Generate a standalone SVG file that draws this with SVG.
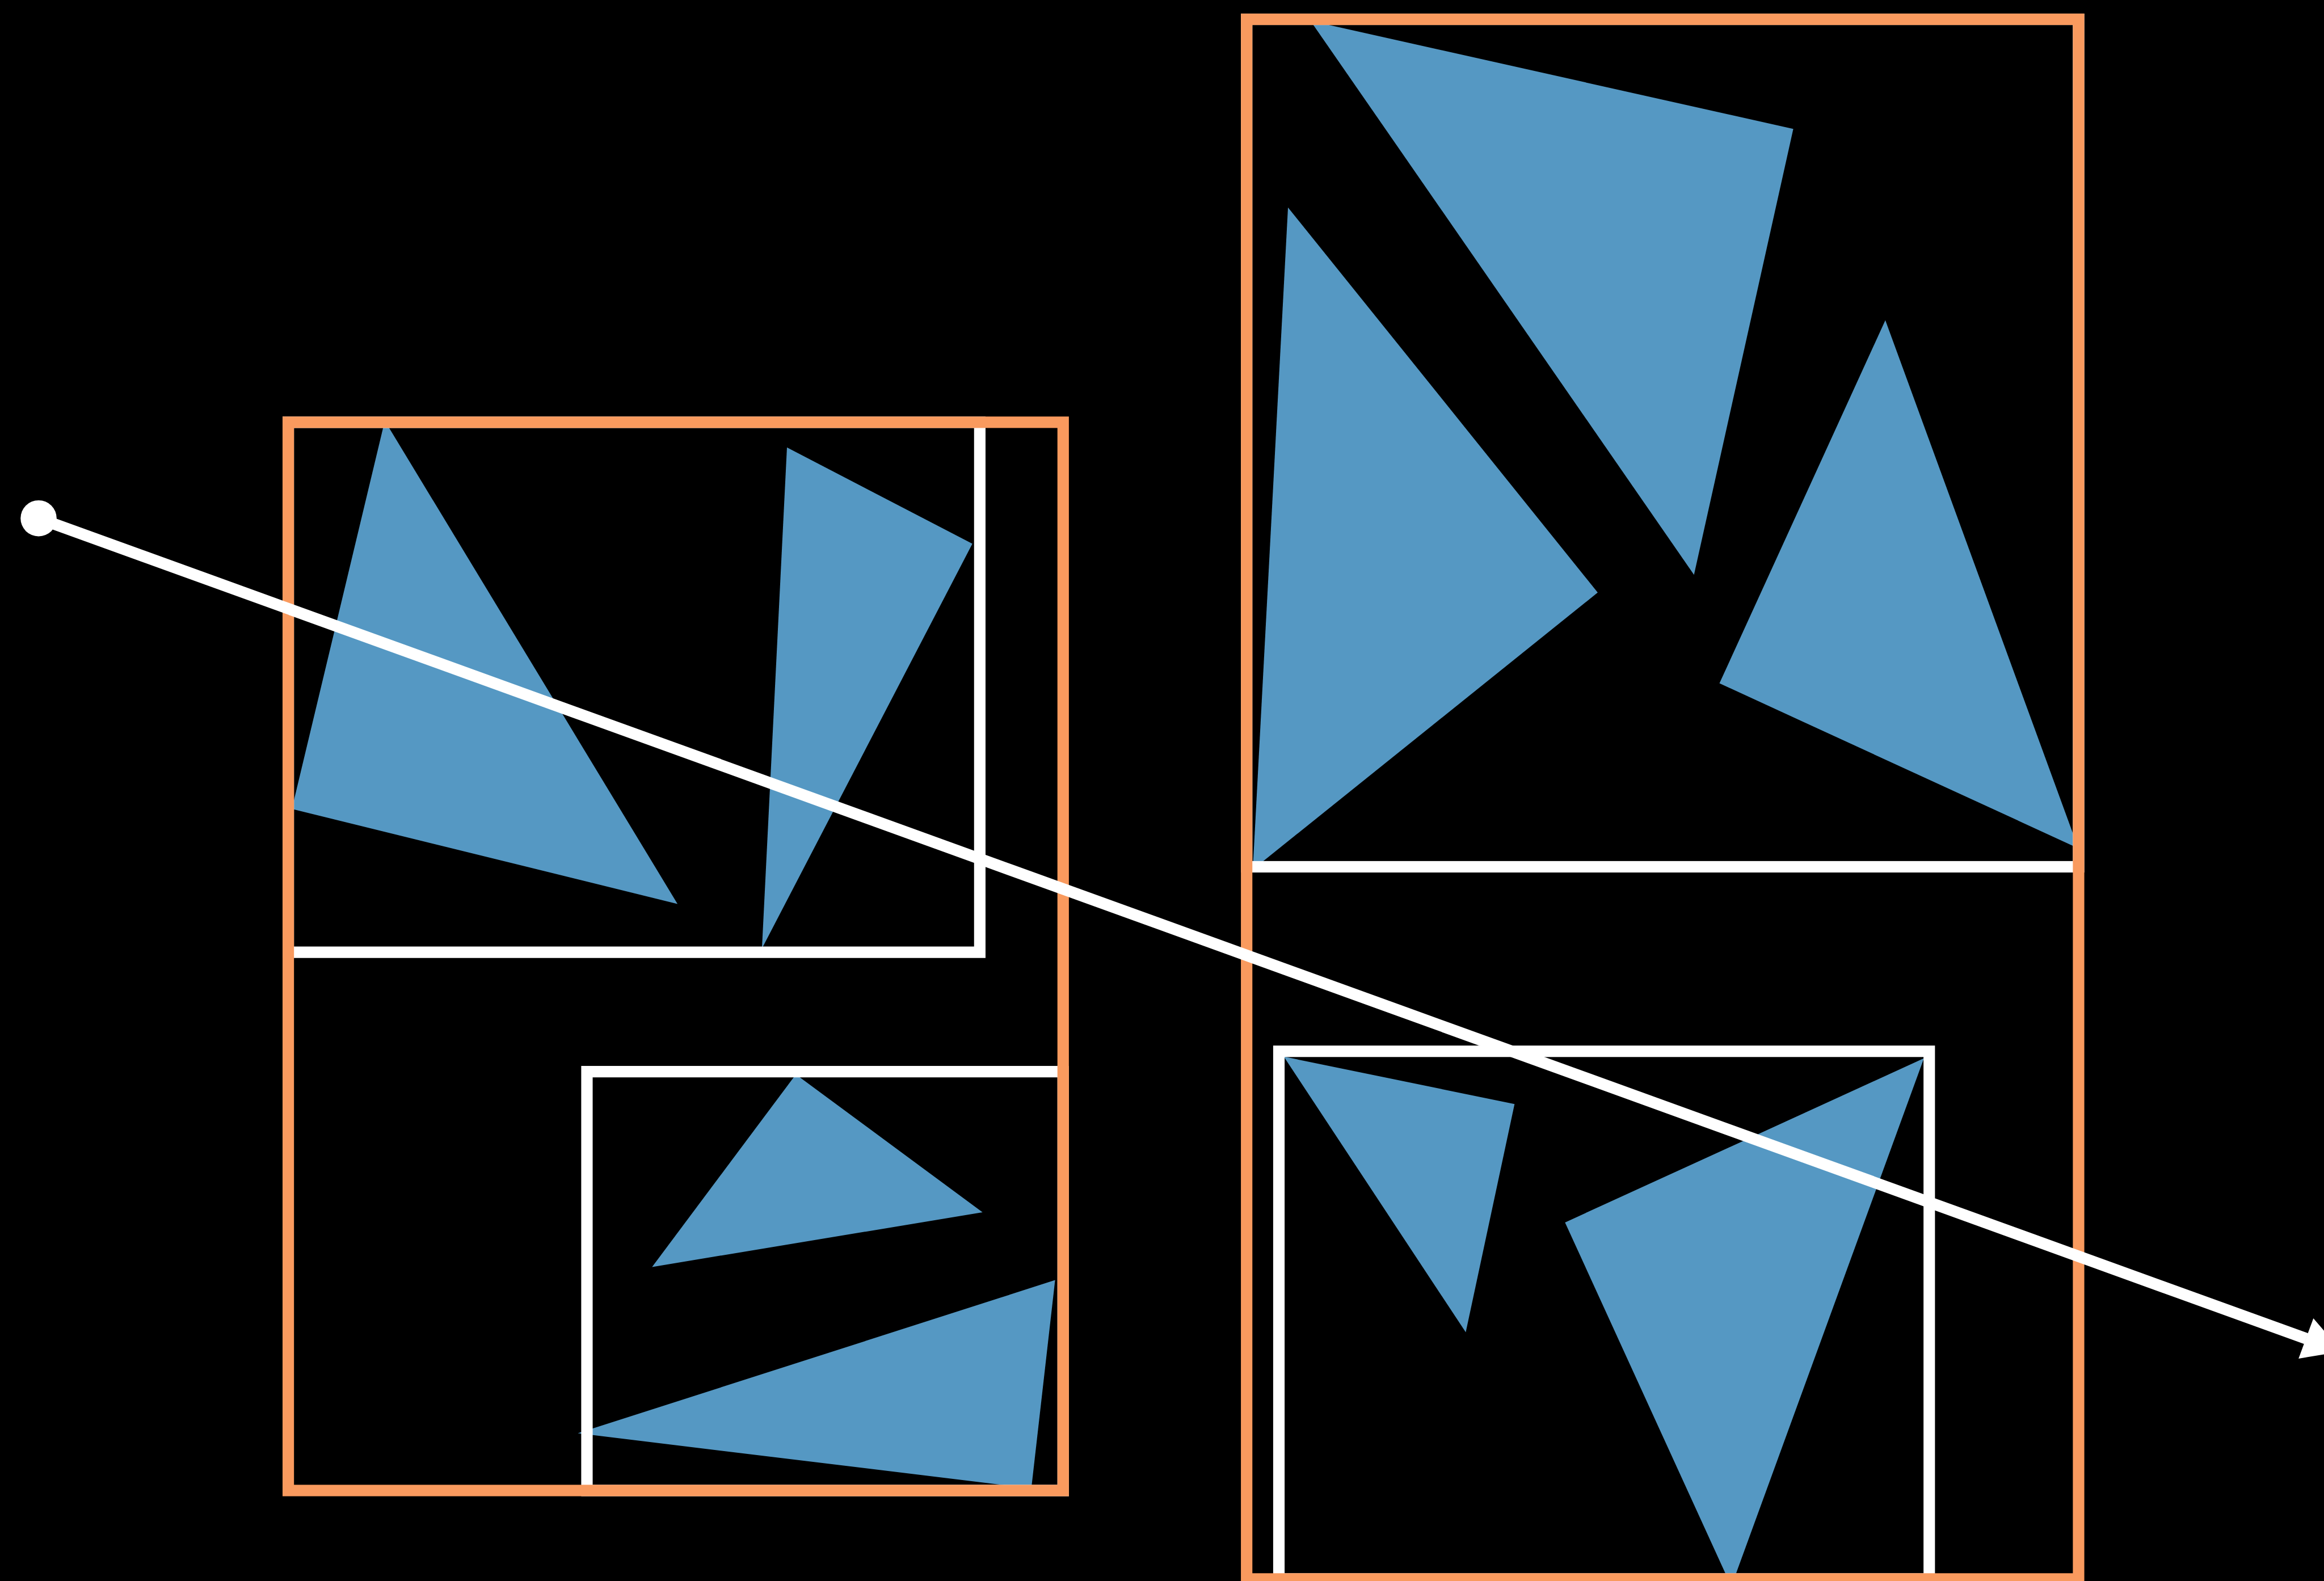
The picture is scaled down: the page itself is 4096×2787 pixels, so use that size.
<svg xmlns="http://www.w3.org/2000/svg" width="4096" height="2787" viewBox="0 0 4096 2787">
<style>
.tri{fill:#5598c3;stroke:none}
.wbox{fill:none;stroke:#ffffff;stroke-width:27}
.obox{fill:none;stroke:#f99a5e;stroke-width:27}
.ray{fill:none;stroke:#ffffff;stroke-width:27}
.rayhead{fill:#ffffff;stroke:none}
</style>
<rect x="0" y="0" width="4096" height="2787" fill="#000000"/>
<g transform="scale(0.74772)">
  <g id="triangles">
    <g id="tri-1"><polygon class="tri" points="907,992 1597,2131 688,1907"/></g>
    <g id="tri-2"><polygon class="tri" points="1855,1055 2292,1282 1796,2236"/></g>
    <g id="tri-3"><polygon class="tri" points="1876,2533 2316,2858 1537,2987"/></g>
    <g id="tri-4"><polygon class="tri" points="2487,3018 2431,3509 1362,3379"/></g>
    <g id="tri-5"><polygon class="tri" points="3089,49 4227,304 3993,1355"/></g>
    <g id="tri-6"><polygon class="tri" points="3036,489 3766,1397 2953,2050"/></g>
    <g id="tri-7"><polygon class="tri" points="4444,755 4899,2000 4053,1611"/></g>
    <g id="tri-8"><polygon class="tri" points="3026,2491 3570,2603 3455,3141"/></g>
    <g id="tri-9"><polygon class="tri" points="4535,2495 4081,3740 3689,2882"/></g>
  </g>
  <g id="leaf-boxes">
    <g id="box-left-top"><rect class="wbox" x="679.5" y="995.5" width="1630" height="1249.5"/></g>
    <g id="box-left-bottom"><rect class="wbox" x="1383.5" y="2526.5" width="1122.5" height="987.5"/></g>
    <g id="box-right-top"><rect class="wbox" x="2938.5" y="45.5" width="1961" height="1998"/></g>
    <g id="box-right-bottom"><rect class="wbox" x="3014.5" y="2478.5" width="1533" height="1244"/></g>
  </g>
  <g id="parent-boxes">
    <g id="box-left"><rect class="obox" x="679.5" y="995.5" width="1826.5" height="2518.5"/></g>
    <g id="box-right"><rect class="obox" x="2938.5" y="45.5" width="1961" height="3677"/></g>
  </g>
  <g id="connectors">
    <circle cx="91" cy="1222" r="42.5" fill="#ffffff"/>
    <line class="ray" x1="91" y1="1222" x2="5436" y2="3156"/>
    <polygon class="rayhead" points="5453,3108 5520,3186 5418,3203"/>
  </g>
</g>
</svg>
